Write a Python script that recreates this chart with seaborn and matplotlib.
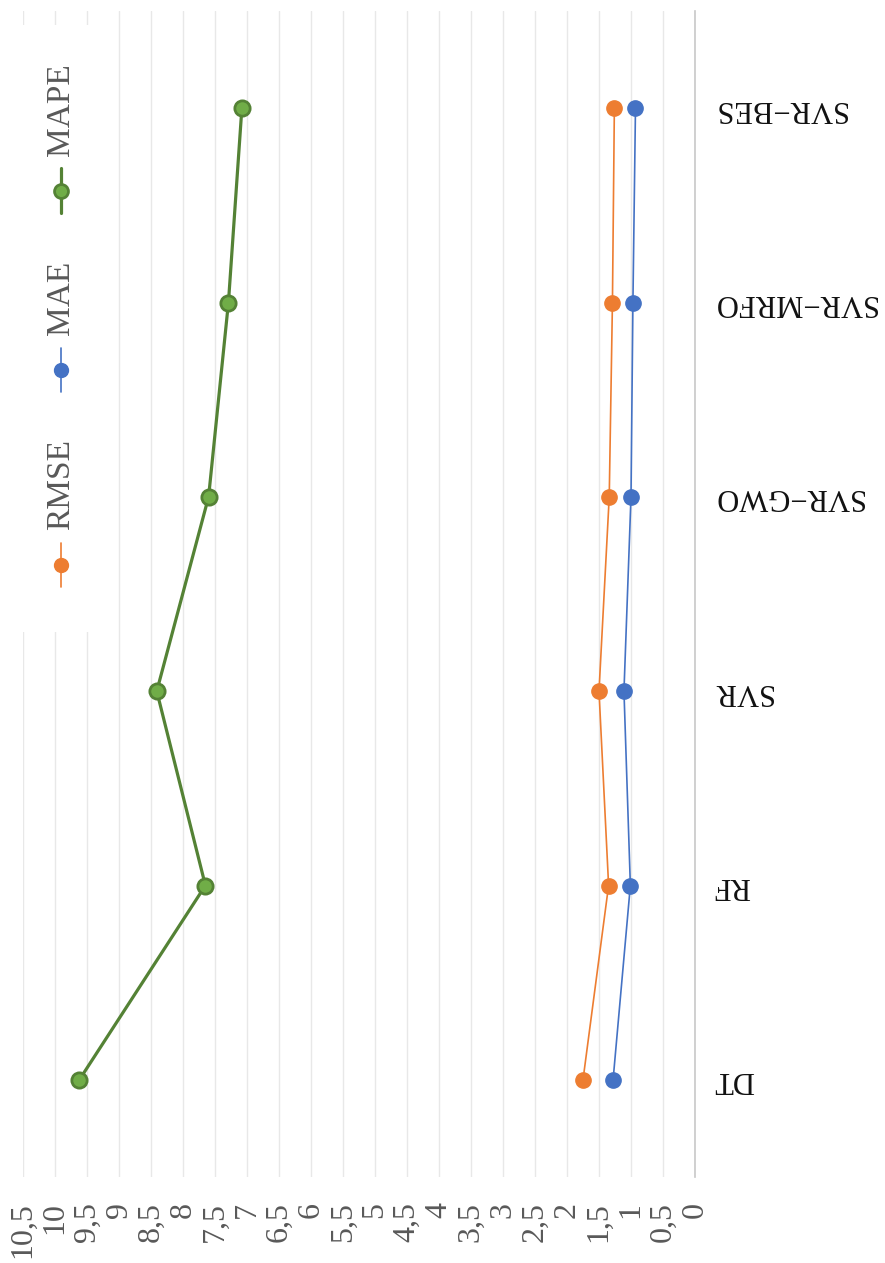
import matplotlib
matplotlib.use("Agg")
import matplotlib.pyplot as plt
from matplotlib.patches import Rectangle
from matplotlib.lines import Line2D
import seaborn as sns
import pandas as pd

# Model comparison: error metrics per model
models = ["DT", "RF", "SVR", "SVR−GWO", "SVR−MRFO", "SVR−BES"]
rmse = [1.75, 1.35, 1.50, 1.34, 1.29, 1.26]
mae = [1.28, 1.01, 1.11, 1.00, 0.97, 0.93]
mape = [9.62, 7.65, 8.41, 7.60, 7.29, 7.08]
metrics = ["RMSE", "MAE", "MAPE"]
value_ticks = [0, 0.5, 1, 1.5, 2, 2.5, 3, 3.5, 4, 4.5, 5, 5.5, 6, 6.5, 7, 7.5, 8, 8.5, 9, 9.5, 10, 10.5]
value_tick_labels = ["0", "0,5", "1", "1,5", "2", "2,5", "3", "3,5", "4", "4,5", "5", "5,5",
                     "6", "6,5", "7", "7,5", "8", "8,5", "9", "9,5", "10", "10,5"]

df = pd.DataFrame({
    "model": models * 3,
    "value": rmse + mae + mape,
    "metric": [m for m in metrics for _ in models],
})

sns.set_theme(style="white")
plt.rcParams["font.family"] = ["Liberation Serif", "DejaVu Serif"]

styles = {
    "RMSE": dict(color="#ED7D31", mfc="#ED7D31", mec="#ED7D31", lw=1.2, ms=11, mew=1.0),
    "MAE": dict(color="#4472C4", mfc="#4472C4", mec="#4472C4", lw=1.2, ms=11, mew=1.0),
    "MAPE": dict(color="#548235", mfc="#70AD47", mec="#548235", lw=2.3, ms=11, mew=2.0),
}

fig = plt.figure(figsize=(8.85, 12.63), dpi=100)
ax = fig.add_axes([23 / 885, 1 - 1177 / 1263, 672 / 885, 1166 / 1263])

for m in metrics:
    st = styles[m]
    sns.lineplot(
        data=df[df["metric"] == m], x="value", y="model", orient="y",
        estimator=None, errorbar=None, sort=True, ax=ax,
        color=st["color"], linewidth=st["lw"], marker="o",
        markersize=st["ms"], markerfacecolor=st["mfc"],
        markeredgecolor=st["mec"], markeredgewidth=st["mew"], zorder=3,
    )

ax.set_xlim(10.5, 0)
ax.set_ylim(-0.5, len(models) - 0.5)
ax.set_xlabel("")
ax.set_ylabel("")

# value axis
ax.set_xticks(value_ticks)
ax.set_xticklabels(value_tick_labels, rotation=90, fontsize=23, color="#595959")
ax.grid(axis="x", color="#E8E8E8", linewidth=1.0)
ax.grid(axis="y", visible=False)
ax.tick_params(axis="x", length=0, pad=18)

# category axis on the right, labels turned upside down
ax.yaxis.tick_right()
ax.set_yticks(range(len(models)))
ax.set_yticklabels(models, rotation=180, fontsize=22, color="#111111", va="center")
ax.tick_params(axis="y", length=0, pad=13)

for side in ["left", "top", "bottom"]:
    ax.spines[side].set_visible(False)
ax.spines["right"].set_color("#C8C8C8")
ax.spines["right"].set_linewidth(1.2)

# legend, laid out vertically along the left edge
ax.add_patch(Rectangle((0.0, 0.467), 0.115, 0.521, transform=ax.transAxes,
                       facecolor="white", edgecolor="none", zorder=2))
legend_y = {"RMSE": 0.525, "MAE": 0.692, "MAPE": 0.846}
lx = 0.0565
for m in metrics:
    st = styles[m]
    y0 = legend_y[m]
    ax.add_line(Line2D([lx, lx], [y0 - 0.019, y0 + 0.019], transform=ax.transAxes,
                       color=st["color"], linewidth=st["lw"], zorder=4))
    ax.add_line(Line2D([lx], [y0], transform=ax.transAxes, marker="o",
                       markersize=st["ms"] - 1, markerfacecolor=st["mfc"],
                       markeredgecolor=st["mec"], markeredgewidth=st["mew"],
                       linestyle="none", zorder=5))
    ax.text(lx, y0 + 0.030, m, transform=ax.transAxes, rotation=90,
            rotation_mode="anchor", ha="left", va="center",
            fontsize=24, color="#595959", zorder=5)

fig.savefig("out.png", dpi=100)
